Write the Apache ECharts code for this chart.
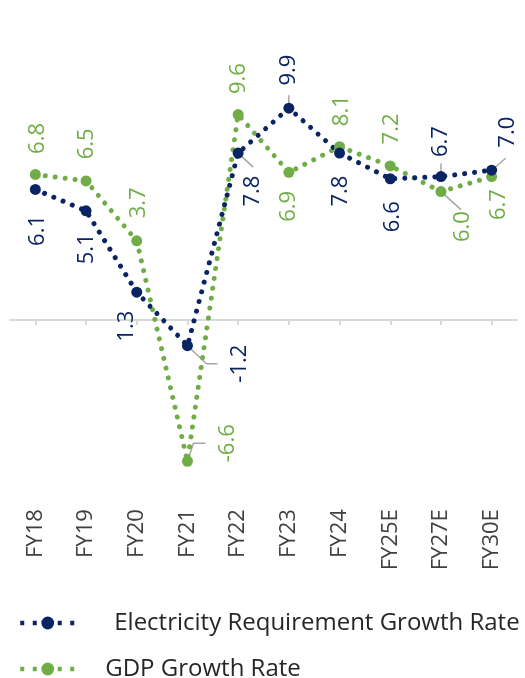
<!DOCTYPE html>
<html><head><meta charset="utf-8">
<script src="https://cdn.jsdelivr.net/npm/echarts@6/dist/echarts.min.js"></script>
<style>html,body{margin:0;padding:0;background:#fff}#c{width:525px;height:678px}</style>
</head><body><div id="c"></div>
<script>
const categories = ['FY18','FY19','FY20','FY21','FY22','FY23','FY24','FY25E','FY27E','FY30E'];
const electricity = [6.1, 5.1, 1.3, -1.2, 7.8, 9.9, 7.8, 6.6, 6.7, 7.0];
const gdp = [6.8, 6.5, 3.7, -6.6, 9.6, 6.9, 8.1, 7.2, 6.0, 6.7];
const seriesNames = ['Electricity Requirement Growth Rate', 'GDP Growth Rate'];

// label placement: screen shift of each label centre from its point (style only)
const elecLabelShift = [[2,41],[1,38],[-10,34],[52,18],[15,38],[0,-38],[1,38],[2,38],[0,-35],[16,-38]];
const gdpLabelShift = [[2,-36],[1,-37],[2,-38],[40,-18],[1,-36],[0,34],[2,-36],[1,-37],[22,35],[7,28]];
// leader lines, relative to points (style only)
const elecLeaders = {3:[[0,0],[19,18],[30,18]], 4:[[0,0],[15,14]], 5:[[0,0],[0,-13]], 8:[[0,0],[0,-13]], 9:[[0,0],[14,-12]]};
const gdpLeaders = {3:[[0,0],[6,-18],[18,-18]], 8:[[0,0],[20,18]]};

const NAVY = '#0a2463';
const GREEN = '#70ad47';
const FONT = 'Open Sans';

function items(values, shifts) {
  // rotate 90: label offset [a,b] is turned to screen shift (b,-a)
  return values.map((v, i) => ({ value: v, label: { offset: [-shifts[i][1], shifts[i][0]] } }));
}

function lineSeries(name, values, shifts, color) {
  return {
    name: name,
    type: 'line',
    xAxisIndex: 0,
    yAxisIndex: 0,
    data: items(values, shifts),
    symbol: 'circle',
    symbolSize: 11,
    showSymbol: true,
    itemStyle: { color: color, borderWidth: 0 },
    lineStyle: { color: color, width: 5, type: [0.01, 10], cap: 'round' },
    label: {
      show: true,
      position: 'inside',
      rotate: 90,
      align: 'center',
      verticalAlign: 'middle',
      fontSize: 22,
      fontFamily: FONT,
      color: color,
      formatter: p => Number(p.value).toFixed(1)
    },
    emphasis: { disabled: true },
    animation: false,
    z: 3
  };
}

const legendBase = {
  orient: 'vertical',
  padding: 0,
  itemWidth: 55,
  itemHeight: 16,
  selectedMode: false,
  lineStyle: { type: [4, 8.5], cap: 'butt', width: 4.5 },
  textStyle: { fontSize: 24, fontFamily: FONT, color: '#262626' }
};

const option = {
  backgroundColor: '#ffffff',
  animation: false,
  grid: { left: 10, right: 8, top: 63.2, bottom: 186.8, containLabel: false },
  legend: [
    Object.assign({}, legendBase, { data: [seriesNames[0]], left: 18, top: 611,
      textStyle: Object.assign({}, legendBase.textStyle, { padding: [0, 0, 0, 34] }) }),
    Object.assign({}, legendBase, { data: [seriesNames[1]], left: 18, top: 657,
      textStyle: Object.assign({}, legendBase.textStyle, { padding: [0, 0, 0, 25] }) })
  ],
  xAxis: [
    {
      type: 'category', data: categories, position: 'bottom', boundaryGap: true,
      axisLine: { show: true, onZero: true, lineStyle: { color: '#d9d9d9', width: 2 } },
      axisTick: { show: true, alignWithLabel: true, length: 5, lineStyle: { color: '#d9d9d9', width: 2 } },
      axisLabel: { show: false },
      splitLine: { show: false }
    },
    {
      type: 'category', data: categories, position: 'bottom', boundaryGap: true,
      axisLine: { show: false, onZero: false },
      axisTick: { show: false },
      axisLabel: { show: true, rotate: 90, margin: 18, fontSize: 22, fontFamily: FONT, color: '#404040', interval: 0 },
      splitLine: { show: false }
    }
  ],
  yAxis: { type: 'value', min: -8, max: 12, show: false, splitLine: { show: false } },
  series: [
    lineSeries(seriesNames[1], gdp, gdpLabelShift, GREEN),
    lineSeries(seriesNames[0], electricity, elecLabelShift, NAVY)
  ]
};

const chart = echarts.init(document.getElementById('c'), null, { renderer: 'canvas' });
chart.setOption(option);

function leaderGraphics(values, leaders) {
  return Object.keys(leaders).map(k => {
    const i = +k;
    const p = chart.convertToPixel({ xAxisIndex: 0, yAxisIndex: 0 }, [i, values[i]]);
    return {
      type: 'polyline', silent: true, z: 1,
      shape: { points: leaders[k].map(d => [p[0] + d[0], p[1] + d[1]]) },
      style: { stroke: '#a6a6a6', lineWidth: 1.5, fill: null }
    };
  });
}
chart.setOption({ graphic: { elements: leaderGraphics(electricity, elecLeaders).concat(leaderGraphics(gdp, gdpLeaders)) } });
</script>
</body></html>
